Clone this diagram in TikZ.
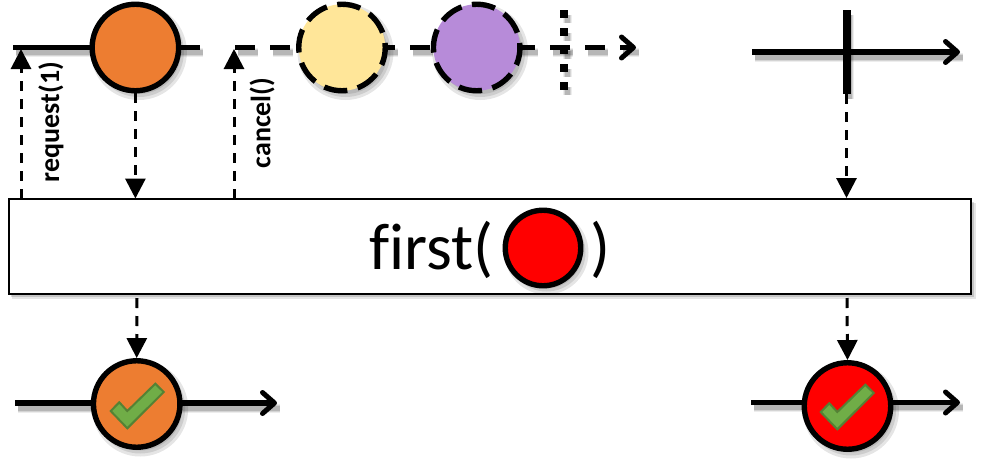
\documentclass[tikz,border=0pt]{standalone}
\usepackage{fontspec}
\setmainfont{Carlito}
\usetikzlibrary{arrows.meta}
\definecolor{orangeC}{HTML}{ED7D31}
\definecolor{yellowC}{HTML}{FFE699}
\definecolor{purpleC}{HTML}{B78BD9}
\definecolor{checkF}{HTML}{70AD47}
\definecolor{checkD}{HTML}{548235}
\tikzset{
  x=1pt,y=-1pt,
  softline/.style={
    preaction={draw=black,draw opacity=.07,line width=9pt,transform canvas={shift={(3pt,-5pt)}},-,#1},
    preaction={draw=black,draw opacity=.10,line width=7pt,transform canvas={shift={(3pt,-5pt)}},-,#1},
    preaction={draw=black,draw opacity=.14,line width=5pt,transform canvas={shift={(3pt,-5pt)}},-,#1}},
  softline/.default={solid},
  mainline/.style={line width=5.4pt,draw=black},
  openarrow/.style={-{Straight Barb[length=12pt,width=21pt,line width=5pt,round]}},
  marble/.style={circle,draw=black,line width=5.4pt,minimum size=86.5pt,inner sep=0pt},
  dmarble/.style={marble,dash pattern=on 23.5pt off 10.6pt,dash phase=19pt},
  probe/.style={line width=3pt,draw=black,dash pattern=on 10pt off 8pt},
  solidtip/.style={-{Triangle[length=20pt,width=20pt]}},
  lab/.style={font=\bfseries\fontsize{28pt}{30pt}\selectfont,rotate=90,inner sep=0pt},
  optext/.style={inner sep=0pt,font=\fontsize{66pt}{66pt}\selectfont},
  opbox/.style={draw=black,line width=2.5pt,fill=white,inner sep=0pt},
  checkmark/.style={fill=checkF,draw=checkD,line width=2pt,line join=miter},
}
\newcommand{\discshadow}[3]{%
  \foreach \dd in {0,3,6}{\fill[black,fill opacity=.1] (#1+3.5,#2+4.5) circle[radius=#3+\dd-3];}}
\newcommand{\tick}[2]{%
  \path[checkmark] (#1-26.3,#2+7) -- (#1-17.7,#2-1.7) -- (#1-9.7,#2+7) -- (#1+18.3,#2-20.3) -- (#1+26.7,#2-12) -- (#1-9.7,#2+24.3) -- cycle;}
\begin{document}
\begin{tikzpicture}
\useasboundingbox (0,0) rectangle (997,464);
\fill[white] (0,0) rectangle (997,464);
% named points
\coordinate (a1) at (13,47.5); \coordinate (a2) at (200,47.5);
\coordinate (b1) at (235,47.5); \coordinate (b2) at (636,47.5);
\coordinate (c1) at (752,52); \coordinate (c2) at (960,52);
\coordinate (d1) at (15,403); \coordinate (d2) at (277,403);
\coordinate (e1) at (751,402.5); \coordinate (e2) at (960,402.5);
\coordinate (v1) at (846.5,10); \coordinate (v2) at (846.5,94);
\coordinate (w1) at (564,10); \coordinate (w2) at (564,90);
% main lines
\draw[mainline,softline] (a1) -- (a2);
\draw[mainline,softline={dash pattern=on 20pt off 15pt},dash pattern=on 20pt off 15pt,openarrow] (b1) -- (b2);
\draw[mainline,softline,openarrow] (c1) -- (c2);
\draw[mainline,softline,openarrow] (d1) -- (d2);
\draw[mainline,softline,openarrow] (e1) -- (e2);
\draw[line width=8pt,softline] (v1) -- (v2);
\draw[line width=8pt,softline={dash pattern=on 8pt off 10pt},dash pattern=on 8pt off 10pt] (w1) -- (w2);
% box
\fill[black,fill opacity=.10] (12,203) rectangle (976,299);
\fill[black,fill opacity=.14] (11,202) rectangle (974,297);
\node[opbox,minimum width=962pt,minimum height=95pt] (op) at (490,246.5) {};
% marble shadows and marbles
\discshadow{135.4}{47.5}{45}
\discshadow{342}{47.5}{45}
\discshadow{476.7}{47.5}{45}
\discshadow{136.7}{404}{45}
\discshadow{847.5}{406}{45}
\discshadow{543}{248}{39}
\node[marble,fill=orangeC] (m1) at (135.4,47.5) {};
\node[dmarble,fill=yellowC] (m2) at (342,47.5) {};
\node[dmarble,fill=purpleC] (m3) at (476.7,47.5) {};
\node[marble,fill=orangeC] (m4) at (136.7,404) {};
\node[marble,fill=red] (m5) at (847.5,406) {};
\node[marble,fill=red,minimum size=75.5pt] (m6) at (543,248) {};
\tick{137}{404}
\tick{847}{405}
% operator text
\node[optext,anchor=base east] (t1) at (494,269) {f\kern0pt irst(};
\node[optext,anchor=base west] (t2) at (590,269) {)};
% connectors
\coordinate (p1) at (21,198.5); \coordinate (q1) at (21,49);
\coordinate (p2) at (234,198.5); \coordinate (q2) at (234,49);
\coordinate (r1) at (135.4,198.5); \coordinate (r2) at (846.5,198);
\coordinate (s1) at (137,298); \coordinate (s2) at (847,298);
\draw[probe,solidtip] (p1) -- (q1);
\draw[probe,solidtip] (p2) -- (q2);
\draw[probe,solidtip] (m1.south) -- (r1);
\draw[probe,solidtip] (v2) -- (r2);
\draw[probe,solidtip] (s1) -- (m4.north);
\draw[probe,solidtip] (s2) -- (m5.north);
% labels
\node[lab] (l1) at (51,122) {request(1)};
\node[lab] (l2) at (262,123) {cancel()};
\end{tikzpicture}
\end{document}
